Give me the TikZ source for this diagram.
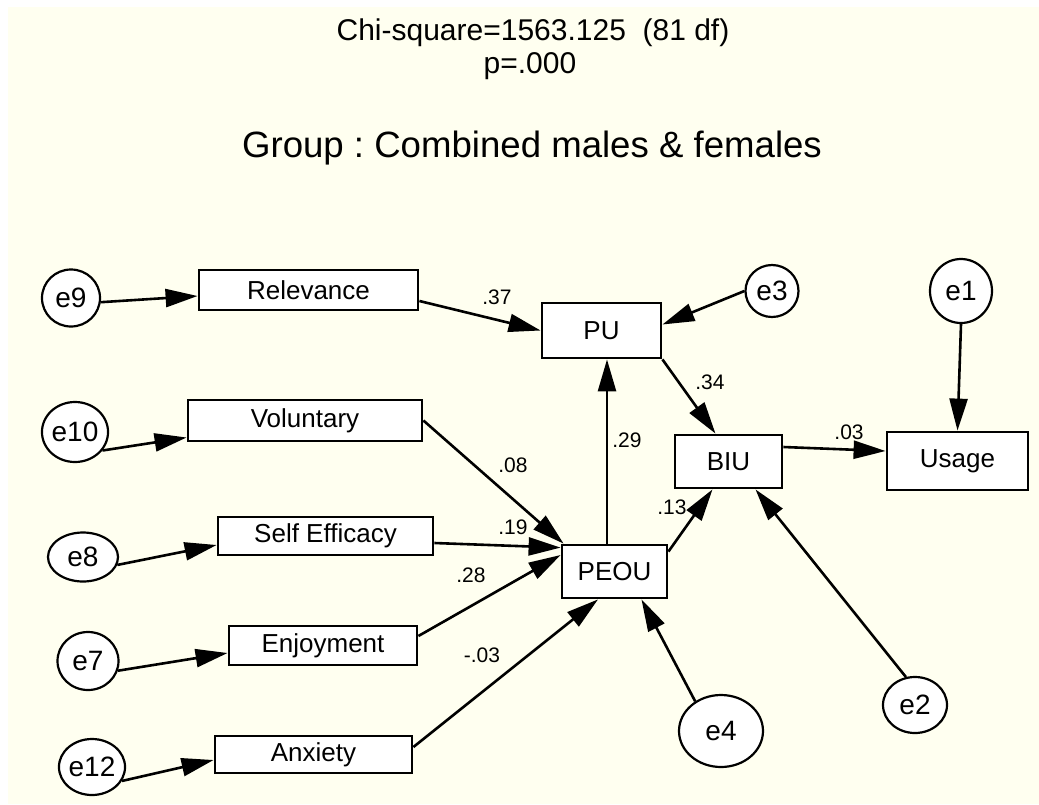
\documentclass[tikz,border=0pt]{standalone}
\usepackage{fontspec}
\setmainfont{Liberation Sans}
\usetikzlibrary{arrows.meta,shapes.geometric}
\definecolor{bgc}{RGB}{255,255,240}
\frenchspacing
\tikzset{
  box/.style={draw, fill=white, line width=2.8pt, inner sep=0pt, font=\fontsize{26}{30}\selectfont},
  err/.style={draw, ellipse, fill=white, line width=2.2pt, inner sep=0pt, font=\fontsize{28}{32}\selectfont},
  arr/.style={line width=2.6pt, -{Triangle[length=32pt,width=18pt]}},
  lab/.style={inner sep=0pt, font=\fontsize{21}{24}\selectfont},
}
\begin{document}
\begin{tikzpicture}[x=1pt,y=-1pt]
\fill[white] (0,0) rectangle (1039,804);
\fill[bgc] (8,7) rectangle (1039,804);
\useasboundingbox (0,0) rectangle (1039,804);

% titles
\node[anchor=base, inner sep=0pt, font=\fontsize{30}{36}\selectfont] (chi) at (533,40) {Chi-square=1563.125~\ (81 df)};
\node[anchor=base, inner sep=0pt, font=\fontsize{30}{36}\selectfont] (pval) at (530,73) {p=.000};
\node[anchor=base, inner sep=0pt, font=\fontsize{36.6}{42}\selectfont] (grp) at (532,157) {Group : Combined males \& females};

% observed boxes
\node[box, minimum width=219pt, minimum height=40pt] (rel) at (308.5,290) {Relevance};
\node[box, minimum width=234pt, minimum height=41pt] (vol) at (305,420.5) {Voluntary};
\node[box, minimum width=215pt, minimum height=38pt] (se) at (325.5,536) {Self Efficacy};
\node[box, minimum width=188pt, minimum height=39pt] (enj) at (323,645.5) {Enjoyment};
\node[box, minimum width=197pt, minimum height=37pt] (anx) at (313.5,754.5) {Anxiety};
\node[box, minimum width=119pt, minimum height=55pt] (pu) at (601.5,330.5) {PU};
\node[box, minimum width=107pt, minimum height=53pt] (biu) at (728.5,461.5) {BIU};
\node[box, minimum width=141pt, minimum height=58pt] (usage) at (957.5,461) {Usage};
\node[box, minimum width=105pt, minimum height=53pt] (peou) at (614.5,571.5) {PEOU};

% error terms
\node[err, minimum width=58pt, minimum height=57pt] (e9) at (71,298) {e9};
\node[err, minimum width=63pt, minimum height=60pt] (e10) at (75,432) {e10};
\node[err, minimum width=70pt, minimum height=49pt] (e8) at (83,557) {e8};
\node[err, minimum width=61pt, minimum height=58pt] (e7) at (88,661) {e7};
\node[err, minimum width=52pt, minimum height=56pt] (e12) at (92,767) {e12};
\node[err, minimum width=53pt, minimum height=52pt] (e3) at (772,291) {e3};
\node[err, minimum width=62pt, minimum height=64pt] (e1) at (961,291) {e1};
\node[err, minimum width=84pt, minimum height=72pt] (e4) at (721,731) {e4};
\node[err, minimum width=64pt, minimum height=56pt] (e2) at (915,705) {e2};

% connectors
\draw[arr] (e9.-8) -- ([yshift=-6pt]rel.west);
\draw[arr] (e10.-34) -- ([yshift=-17pt]vol.west);
\draw[arr] (e8.-13) -- ([yshift=-9pt]se.west);
\draw[arr] (e7.-18) -- ([yshift=-7.5pt]enj.west);
\draw[arr] (e12.-25) -- ([yshift=-5.5pt]anx.west);
\draw[arr] ([yshift=-11pt]rel.east) -- (pu.west);
\draw[arr] (e3.west) -- ([yshift=6pt]pu.east);
\draw[arr] (e1.south) -- (usage.north);
\draw[arr] (pu.south east) -- ([xshift=-13pt]biu.north);
\draw[arr] ([xshift=-7.5pt]peou.north) -- ([xshift=5.5pt]pu.south);
\draw[arr] (vol.east) -- ([xshift=3pt]peou.north west);
\draw[arr] ([yshift=-7pt]se.east) -- ([yshift=-4pt]peou.north west);
\draw[arr] ([yshift=9.5pt]enj.east) -- ([yshift=16.5pt]peou.west);
\draw[arr] ([yshift=7.5pt]anx.east) -- ([xshift=-16.5pt]peou.south);
\draw[arr] (e4.131) -- ([xshift=27pt]peou.south);
\draw[arr] ([yshift=-8pt]peou.north east) -- ([xshift=-16pt]biu.south);
\draw[arr] (e2.108) -- ([xshift=27pt]biu.south);
\draw[arr] ([yshift=14.5pt]biu.east) -- ([yshift=10pt]usage.west);

% path coefficients
\node[lab] (l37) at (497,297) {.37};
\node[lab] (l34) at (710,382) {.34};
\node[lab] (l29) at (627,440) {.29};
\node[lab] (l08) at (513,465) {.08};
\node[lab] (l19) at (513,527) {.19};
\node[lab] (l13) at (672,507) {.13};
\node[lab] (l28) at (471,575) {.28};
\node[lab] (l03n) at (482,655) {-.03};
\node[lab] (l03) at (849,432) {.03};
\end{tikzpicture}
\end{document}
